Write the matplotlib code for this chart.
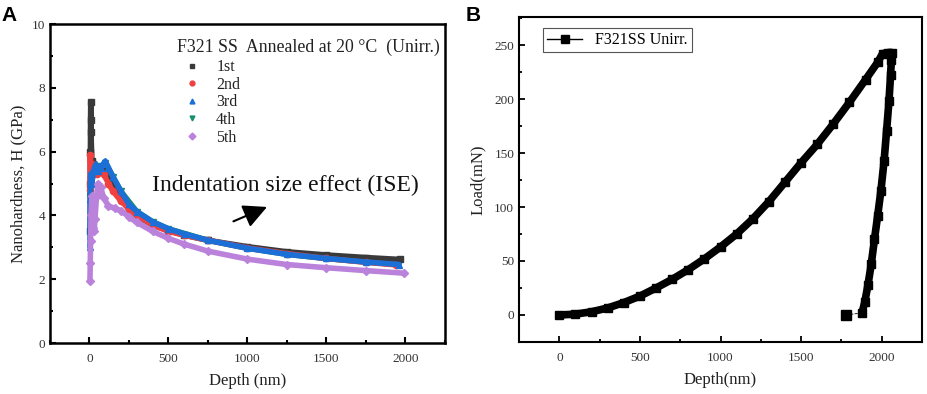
import matplotlib
matplotlib.use("Agg")
import matplotlib.pyplot as plt
from matplotlib.lines import Line2D
from matplotlib.ticker import MultipleLocator

plt.rcParams['font.family'] = ['Liberation Serif', 'DejaVu Serif']

# ---------------- Panel A data ----------------
d1 = [5, 5, 6, 7, 8, 10, 15, 25, 40, 60, 80, 100, 150, 200, 250, 300, 400, 500, 600, 750, 1000, 1250, 1500, 1750, 1965]
h1 = [3.5, 5.0, 6.0, 7.0, 7.55, 6.6, 5.7, 5.6, 5.5, 5.5, 5.4, 5.3, 4.9, 4.5, 4.2, 3.98, 3.7, 3.52, 3.38, 3.22, 3.02, 2.86, 2.76, 2.68, 2.62]

d2 = [3, 5, 8, 15, 30, 50, 70, 90, 120, 150, 200, 250, 300, 400, 500, 600, 750, 1000, 1250, 1500, 1750, 1940]
h2 = [4.8, 5.9, 5.5, 5.6, 5.5, 5.3, 5.35, 5.3, 5.0, 4.75, 4.45, 4.2, 4.0, 3.7, 3.5, 3.38, 3.22, 2.98, 2.8, 2.65, 2.53, 2.45]

d3 = [3, 5, 8, 15, 25, 40, 55, 70, 85, 100, 120, 150, 200, 250, 300, 400, 500, 600, 750, 1000, 1250, 1500, 1750, 1960]
h3 = [3.0, 4.5, 5.3, 5.0, 5.4, 5.6, 5.4, 5.5, 5.6, 5.7, 5.5, 5.2, 4.75, 4.35, 4.12, 3.8, 3.58, 3.42, 3.22, 2.97, 2.78, 2.65, 2.54, 2.46]

d4 = [5, 10, 20, 40, 60, 80, 100, 150, 200, 300, 400, 500, 750, 1000, 1250, 1500, 1750, 1950]
h4 = [4.6, 5.2, 5.2, 5.55, 5.45, 5.55, 5.65, 5.2, 4.75, 4.12, 3.8, 3.58, 3.22, 2.97, 2.78, 2.65, 2.54, 2.46]

d5 = [3, 5, 7, 10, 15, 20, 25, 30, 35, 45, 55, 70, 90, 120, 160, 200, 250, 300, 400, 500, 600, 750, 1000, 1250, 1500, 1750, 1990]
h5 = [1.95, 2.5, 3.2, 4.0, 4.6, 4.2, 3.6, 3.5, 3.9, 4.6, 5.0, 4.9, 4.55, 4.3, 4.22, 4.15, 3.95, 3.78, 3.5, 3.28, 3.1, 2.88, 2.63, 2.46, 2.36, 2.27, 2.19]

labels_a = ['1st', '2nd', '3rd', '4th', '5th']
colors_a = ['#3a3a3a', '#f04040', '#1c6fd6', '#1a8f70', '#bb82dc']
markers_a = ['s', 'o', '^', 'v', 'D']
legend_title_a = 'F321 SS  Annealed at 20 \u00b0C  (Unirr.)'
annot_text = 'Indentation size effect (ISE)'

# ---------------- Panel B data ----------------
load_depth = [0, 100, 200, 300, 400, 500, 600, 700, 800, 900, 1000, 1100, 1200, 1300, 1400, 1500, 1600, 1700, 1800, 1900, 1975, 2005, 2040, 2065]
load_val = [0, 0.8, 3, 6.5, 11.5, 17.5, 25, 33, 42, 52, 63, 75, 89, 105, 123, 141, 158, 177, 197, 218, 234, 242, 243, 243]
unload_depth = [2060, 2055, 2045, 2030, 2015, 1995, 1975, 1955, 1935, 1915, 1895, 1878]
unload_val = [236, 222, 198, 170, 143, 115, 92, 70, 47, 28, 12, 2]
final_depth = [1878, 1780]
final_val = [2, 0]
label_b = 'F321SS Unirr.'

fig = plt.figure(figsize=(9.27, 3.94), dpi=100)

# ---------------- Panel A ----------------
axA = fig.add_axes([0.0539, 0.1294, 0.4261, 0.8096])
series = [(d4, h4, 3), (d1, h1, 0), (d2, h2, 1), (d3, h3, 2), (d5, h5, 4)]
for k, (d, h, i) in enumerate(series):
    axA.plot(d, h, color=colors_a[i], lw=4.0, solid_joinstyle='round', solid_capstyle='round',
             zorder=2 + k * 0.1)
    axA.plot(d, h, ls='none', marker=markers_a[i], ms=4.5, color=colors_a[i], zorder=2.05 + k * 0.1)

axA.set_xlim(-250, 2250)
axA.set_ylim(0, 10)
axA.xaxis.set_major_locator(MultipleLocator(500))
axA.xaxis.set_minor_locator(MultipleLocator(250))
axA.yaxis.set_major_locator(MultipleLocator(2))
axA.yaxis.set_minor_locator(MultipleLocator(1))
axA.tick_params(which='both', direction='in', top=False, right=False, labelsize=9.5,
                labelcolor='#333333', width=1.5)
axA.tick_params(axis='x', pad=7)
axA.tick_params(which='major', length=4)
axA.tick_params(which='minor', length=2.5)
for s in axA.spines.values():
    s.set_linewidth(1.8)
axA.set_xlabel('Depth (nm)', fontsize=12, labelpad=6, color='#222222')
axA.set_ylabel('Nanohardness, H (GPa)', fontsize=12, labelpad=4, color='#222222')

axA.text(0.322, 0.928, legend_title_a, transform=axA.transAxes, fontsize=12.8,
         ha='left', va='center', color='#222222')
handles = [Line2D([], [], ls='none', marker=markers_a[i], color=colors_a[i], ms=3.5)
           for i in range(5)]
axA.legend(handles, labels_a, loc='upper left', bbox_to_anchor=(0.332, 0.90), frameon=False,
           fontsize=11.5, handlelength=1.0, handletextpad=1.0, labelspacing=0.1,
           borderpad=0.2, borderaxespad=0.0, labelcolor='#222222')

axA.text(0.597, 0.495, annot_text, transform=axA.transAxes, fontsize=17,
         ha='center', va='center', color='#111111')
axA.annotate('', xy=(1140, 4.3), xytext=(895, 3.78),
             arrowprops=dict(arrowstyle='-|>,head_length=0.8,head_width=0.4',
                             color='black', lw=1.5, mutation_scale=18))

# ---------------- Panel B ----------------
axB = fig.add_axes([0.5599, 0.132, 0.4347, 0.825])
axB.plot(final_depth, final_val, color='black', lw=0.6, ls='--', zorder=2)
axB.plot(final_depth[1:], final_val[1:], ls='none', marker='s', ms=6.5, color='black', zorder=3)
axB.plot(load_depth, load_val, color='black', lw=5.5, solid_capstyle='butt', zorder=3)
axB.plot(load_depth, load_val, ls='none', marker='s', ms=5.5, color='black', zorder=3)
axB.plot(unload_depth, unload_val, color='black', lw=5.5, solid_capstyle='butt', zorder=3)
axB.plot(unload_depth, unload_val, ls='none', marker='s', ms=5.5, color='black', zorder=3)

axB.set_xlim(-250, 2250)
axB.set_ylim(-25, 276)
axB.xaxis.set_major_locator(MultipleLocator(500))
axB.xaxis.set_minor_locator(MultipleLocator(250))
axB.yaxis.set_major_locator(MultipleLocator(50))
axB.yaxis.set_minor_locator(MultipleLocator(25))
axB.tick_params(which='both', direction='in', top=False, right=False, labelsize=9.5,
                labelcolor='#333333', width=1.3)
axB.tick_params(axis='x', pad=7)
axB.tick_params(which='major', length=4)
axB.tick_params(which='minor', length=2.5)
for s in axB.spines.values():
    s.set_linewidth(1.5)
axB.set_xlabel('Depth(nm)', fontsize=12, labelpad=6, color='#222222')
axB.set_ylabel('Load(mN)', fontsize=12, labelpad=6, color='#222222')

hB = Line2D([], [], color='black', lw=1.0, marker='s', ms=5.5)
legB = axB.legend([hB], [label_b], loc='upper left', bbox_to_anchor=(0.06, 0.965),
                  fontsize=11.5, fancybox=False, edgecolor='#555555', framealpha=1,
                  handlelength=2.2, handletextpad=0.8, borderpad=0.25, borderaxespad=0.0)
legB.get_frame().set_linewidth(0.8)

# panel labels
fig.text(0.002, 0.985, 'A', fontsize=15, fontweight='bold', family='Liberation Sans',
         ha='left', va='top')
fig.text(0.502, 0.985, 'B', fontsize=15, fontweight='bold', family='Liberation Sans',
         ha='left', va='top')

fig.savefig('out.png', dpi=100)
